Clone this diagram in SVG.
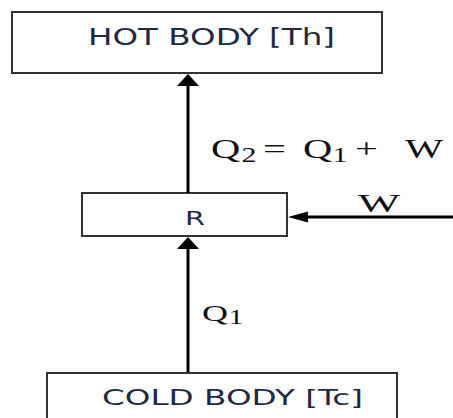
<svg xmlns="http://www.w3.org/2000/svg" width="453" height="418" viewBox="0 0 453 418">
<style>
.box{fill:#fff;stroke:#333;stroke-width:2}
.sans{font-family:"DejaVu Sans","Liberation Sans",sans-serif;fill:#1f2a44}
.serif{font-family:"Liberation Serif","Times New Roman",serif;fill:#111}
.sub{font-size:20px}
.line{stroke:#000;stroke-width:3;fill:none}
.head{fill:#000}
</style>
<rect width="453" height="418" fill="#fff"/>
<g id="hot">
<rect class="box" x="12" y="12" width="370" height="61"/>
<text class="sans" x="88" y="45" font-size="23" textLength="247" lengthAdjust="spacingAndGlyphs">HOT BODY [Th]</text>
</g>
<g id="r">
<rect class="box" x="82" y="193" width="205" height="43"/>
<text class="sans" x="185" y="225" font-size="20" textLength="20" lengthAdjust="spacingAndGlyphs">R</text>
</g>
<g id="cold">
<rect class="box" x="47" y="373" width="350" height="60"/>
<text class="sans" x="102" y="405" font-size="22" textLength="261" lengthAdjust="spacingAndGlyphs">COLD BODY [Tc]</text>
</g>
<g id="connectors">
<line class="line" x1="188" y1="193" x2="188" y2="84"/>
<polygon class="head" points="188,74 177,86 199,86"/>
<line class="line" x1="188" y1="372" x2="188" y2="247"/>
<polygon class="head" points="188,237 177,249 199,249"/>
<line class="line" x1="453" y1="217" x2="306" y2="217"/>
<polygon class="head" points="288,217 308,211.5 308,222.5"/>
</g>
<g id="labels">
<text class="serif" font-size="27" transform="translate(211,158) scale(1.5,1)"><tspan x="0" y="0">Q</tspan><tspan class="sub" x="20.3" y="4">2</tspan><tspan x="34.7" y="0">=</tspan><tspan x="61.3" y="0">Q</tspan><tspan class="sub" x="81" y="4">1</tspan><tspan x="96" y="0">+</tspan><tspan x="129.3" y="0">W</tspan></text>
<text class="serif" font-size="25" transform="translate(358,212) scale(1.78,1)">W</text>
<text class="serif" font-size="24" transform="translate(202,321) scale(1.5,1)"><tspan x="0" y="0">Q</tspan><tspan class="sub" x="17.6" y="3">1</tspan></text>
</g>
</svg>
